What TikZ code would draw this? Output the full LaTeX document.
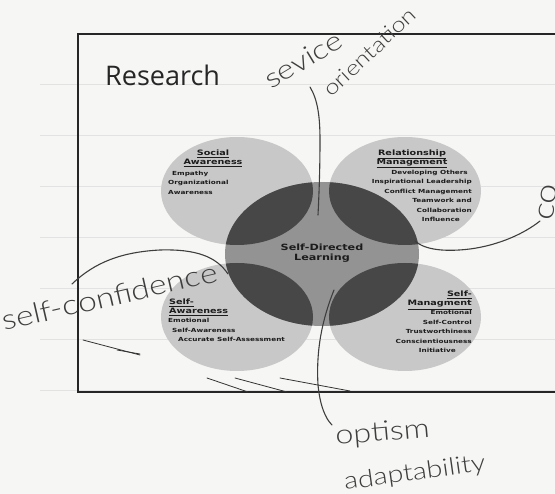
\documentclass[tikz,border=0pt]{standalone}
\usepackage{fontspec}
\newfontfamily\dgfont[FakeStretch=1.3]{DejaVu Sans}
\newfontfamily\ttlfont{Open Sans}
\newfontfamily\penfont[FakeStretch=1.2]{Lato Light}
\newcommand\dghead{\dgfont\bfseries\fontsize{7.4}{9}\selectfont}
\newcommand\dgitem{\dgfont\bfseries\fontsize{5.6}{9.4}\selectfont}
\newcommand\dgcore{\dgfont\bfseries\fontsize{8.6}{10}\selectfont}
\definecolor{paper}{HTML}{F6F6F4}
\definecolor{ruled}{HTML}{E2E2E2}
\definecolor{softgray}{HTML}{C8C8C8}
\definecolor{midgray}{HTML}{939393}
\definecolor{darkgray}{HTML}{474747}
\definecolor{ink}{HTML}{1C1C1C}
\definecolor{pencil}{HTML}{3E3E3E}
\begin{document}
\begin{tikzpicture}[x=1pt,y=-1pt,
  softdisc/.style={fill=softgray},
  coredisc/.style={fill=midgray},
  lensdisc/.style={fill=darkgray},
  headtext/.style={font=\dghead, text=ink, inner sep=0pt},
  itemtext/.style={font=\dgitem, text=ink, inner sep=0pt},
  pencilline/.style={draw=pencil, line width=1.1pt, line cap=round},
  penline/.style={draw=black!80, line width=0.8pt, line cap=round},
  handtext/.style={text=pencil, inner sep=0pt, anchor=base west}]

\useasboundingbox (0,0) rectangle (555,494);
\clip (0,0) rectangle (555,494);
\fill[paper] (0,0) rectangle (555,494);

% faint ruled lines of the sheet
\foreach \ry in {84,135,186,237,288,339,390}
  \draw[ruled, line width=0.7pt] (40,\ry) -- (555,\ry);

% slide frame
\draw[line width=1.4pt, black!85] (570,34) -- (78,34) -- (78,392) -- (570,392);

\node[font=\ttlfont\fontsize{27}{30}\selectfont, text=black!85, anchor=base west, inner sep=0pt]
  (title) at (105,86) {Research};

% four competency clusters
\path[softdisc] (237,191) ellipse [x radius=76, y radius=54];
\path[softdisc] (405,191) ellipse [x radius=76, y radius=54];
\path[softdisc] (237,317) ellipse [x radius=76, y radius=54];
\path[softdisc] (405,317) ellipse [x radius=76, y radius=54];

% central ellipse with darker overlaps
\path[coredisc] (322,254) ellipse [x radius=97, y radius=72];
\begin{scope}
  \clip (322,254) ellipse [x radius=97, y radius=72];
  \path[lensdisc] (237,191) ellipse [x radius=76, y radius=54];
  \path[lensdisc] (405,191) ellipse [x radius=76, y radius=54];
  \path[lensdisc] (237,317) ellipse [x radius=76, y radius=54];
  \path[lensdisc] (405,317) ellipse [x radius=76, y radius=54];
\end{scope}

% cluster labels
\node[headtext, align=center] (sahead) at (213,158.5)
  {\underline{Social}\\\underline{Awareness}};
\node[itemtext, align=left, anchor=north west] (saitems) at (168,171)
  {\hspace*{4pt}Empathy\\Organizational\\Awareness};

\node[headtext, align=center] (rmhead) at (412,159)
  {\underline{Relationship}\\\underline{Management}};
\node[itemtext, align=right, anchor=north east] (rmitems) at (472,170)
  {Developing Others\hspace*{4pt}\\Inspirational Leadership\\Conflict Management\\Teamwork and\\Collaboration\hspace*{3pt}\\Influence\hspace*{12pt}};

\node[headtext, align=left, anchor=north west] (swhead) at (169,299)
  {\underline{Self-}\\\underline{Awareness}};
\node[itemtext, align=left, anchor=north west] (switems) at (168,318.5)
  {Emotional\\\hspace*{4pt}Self-Awareness\\\hspace*{10pt}Accurate Self-Assessment};

\node[headtext, align=right, anchor=north east] (smhead) at (472,291)
  {\underline{Self-}\\\underline{Managment}};
\node[itemtext, align=right, anchor=north east] (smitems) at (472,310.5)
  {Emotional\\Self-Control\\Trustworthiness\\Conscientiousness\\Initiative\hspace*{16pt}};

\node[font=\dgcore, text=ink, align=center, inner sep=0pt] (core) at (322,253)
  {Self-Directed\\Learning};

% handwritten notes
\node[handtext, font=\penfont\fontsize{27}{30}\selectfont, rotate=31] (n1) at (271,90) {sevice};
\node[handtext, font=\penfont\fontsize{21}{24}\selectfont, rotate=43] (n2) at (331,98) {orientation};
\node[handtext, font=\penfont\fontsize{28}{30}\selectfont, rotate=13] (n3) at (4,331) {self-confidence};
\node[handtext, font=\penfont\fontsize{27}{30}\selectfont, rotate=5] (n4) at (336,445) {optism};
\node[handtext, font=\penfont\fontsize{24}{30}\selectfont, rotate=8] (n5) at (345,490) {adaptability};
\node[handtext, font=\penfont\fontsize{30}{30}\selectfont, rotate=80] (n6) at (552,222) {co};

\coordinate (a0) at (310,87);
\coordinate (a1) at (318,215);
\draw[pencilline] (a0) .. controls (318,100) and (320,118) .. (320,140)
                       .. controls (320,170) and (319,195) .. (a1);

\coordinate (b0) at (415,241);
\coordinate (b1) at (540,221);
\draw[pencilline] (b0) .. controls (425,250) and (445,252) .. (470,249)
                       .. controls (500,245) and (525,233) .. (b1);

\coordinate (c0) at (72,284);
\coordinate (c1) at (228,274);
\draw[pencilline] (c0) .. controls (95,262) and (122,252) .. (160,250)
                       .. controls (195,249) and (216,256) .. (c1);

\coordinate (d0) at (334,290);
\coordinate (d1) at (332,425);
\draw[pencilline] (d0) .. controls (322,320) and (316,350) .. (318,385)
                       .. controls (320,405) and (325,418) .. (d1);

% pen strokes across the frame
\draw[penline] (83,340) -- (140,355);
\draw[penline] (117,350) -- (140,354);
\draw[penline] (207,378) -- (248,392);
\draw[penline] (235,378) -- (287,392);
\draw[penline] (280,378) -- (350,391);
\end{tikzpicture}
\end{document}
